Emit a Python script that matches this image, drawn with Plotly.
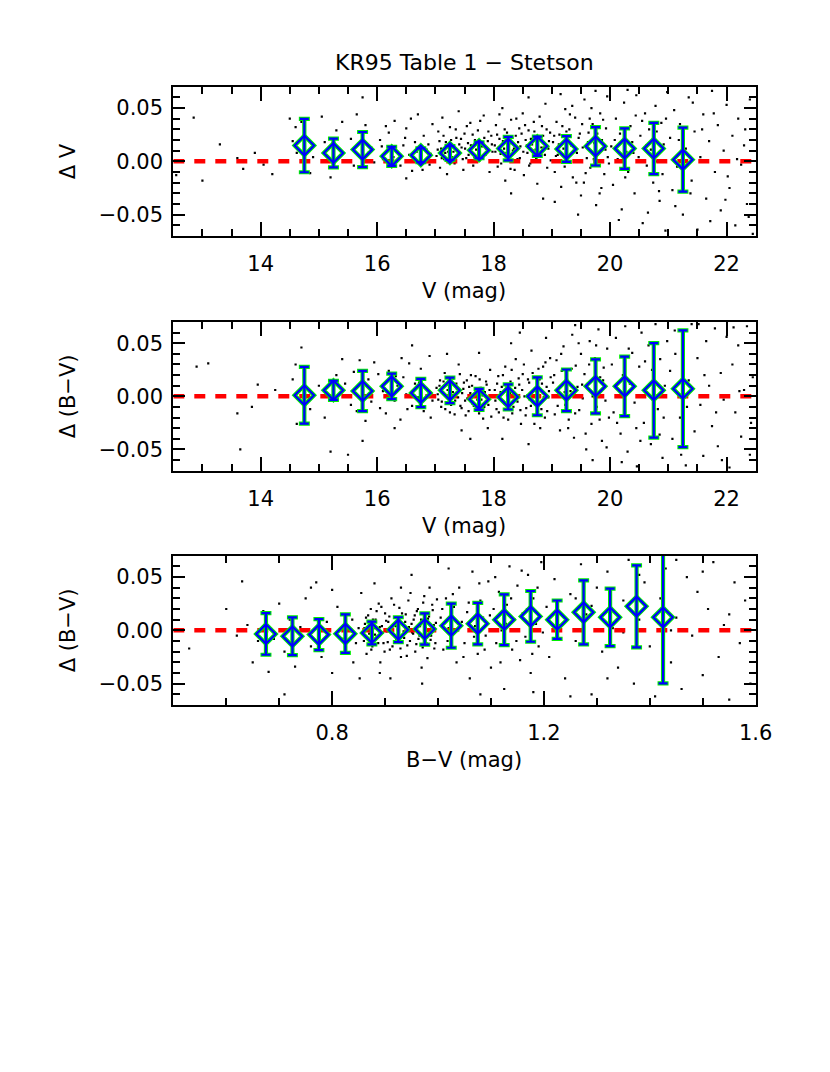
import plotly.graph_objects as go

W, H = 830, 1072
FONT = "DejaVu Sans"
BLUE = "#0000ff"
GREEN = "#00ee00"
RED = "#ff0000"

TITLE = "KR95 Table 1 \u2212 Stetson"

# panel ranges / ticks
V_RANGE = [12.5, 22.5]
BV_RANGE = [0.5, 1.6]
D_RANGE = [-0.07, 0.07]
ZERO_LEVEL = 0.0

# binned means (panel 1: Delta V vs V)
v_bins = [14.75, 15.25, 15.75, 16.25, 16.75, 17.25, 17.75,
          18.25, 18.75, 19.25, 19.75, 20.25, 20.75, 21.25]
dv_mean = [0.0148, 0.0078, 0.0110, 0.0047, 0.0057, 0.0078, 0.0104,
           0.0120, 0.0141, 0.0116, 0.0141, 0.0120, 0.0120, 0.0016]
dv_err = [0.0250, 0.0135, 0.0165, 0.0090, 0.0065, 0.0065, 0.0075,
          0.0110, 0.0090, 0.0120, 0.0180, 0.0190, 0.0240, 0.0300]

# panel 2: Delta (B-V) vs V
dbv_mean = [0.0010, 0.0057, 0.0050, 0.0094, 0.0031, 0.0057, -0.0028,
            -0.0006, 0.0000, 0.0057, 0.0094, 0.0094, 0.0057, 0.0072]
dbv_err = [0.0267, 0.0090, 0.0190, 0.0120, 0.0133, 0.0120, 0.0099,
           0.0118, 0.0178, 0.0196, 0.0255, 0.0280, 0.0445, 0.0550]

# panel 3: Delta (B-V) vs B-V
bv_bins = [0.675, 0.725, 0.775, 0.825, 0.875, 0.925, 0.975, 1.025,
           1.075, 1.125, 1.175, 1.225, 1.275, 1.325, 1.375, 1.425]
dbv2_mean = [-0.0034, -0.0056, -0.0040, -0.0031, -0.0025, 0.0006, 0.0013, 0.0044,
             0.0063, 0.0100, 0.0131, 0.0100, 0.0169, 0.0122, 0.0225, 0.0122]
dbv2_err = [0.0195, 0.0177, 0.0145, 0.0180, 0.0106, 0.0117, 0.0147, 0.0207,
            0.0195, 0.0238, 0.0238, 0.0180, 0.0300, 0.0270, 0.0385, 0.0620]

# individual stars
stars_v_dv = [
    (12.55, -0.013), (12.85, 0.041), (13.0, -0.018), (13.3, 0.016), (13.6, 0.003), (13.7, -0.007),
    (13.9, 0.008), (14.05, -0.003), (14.2, -0.012), (14.5, 0.040),
    (14.55, 0.019), (14.6, 0.032), (14.62, 0.008), (14.7, 0.037), (14.85, -0.011), (14.9, 0.004),
    (15.05, 0.042), (15.1, 0.018), (15.2, -0.015), (15.3, 0.029), (15.4, 0.037), (15.45, 0.0),
    (15.55, 0.021), (15.6, -0.004), (15.65, 0.044), (15.75, 0.060), (15.8, 0.034), (15.9, 0.013),
    (15.95, -0.001), (15.85, 0.008),
    (16.05, 0.020), (16.1, 0.002), (16.2, 0.027), (16.3, 0.038), (16.35, 0.009), (16.4, -0.004),
    (16.45, 0.015), (16.5, 0.031), (16.55, 0.006), (16.6, -0.009), (16.65, 0.018), (16.7, 0.044),
    (16.75, 0.001), (16.8, 0.024), (16.85, 0.011), (16.9, -0.003), (16.95, 0.035), (16.92, 0.007),
    (16.5, -0.016), (16.2, 0.012),
    (16.08, 0.014), (16.28, 0.004), (16.48, 0.022), (16.68, 0.009), (16.88, 0.016), (16.15, 0.033),
    (16.58, 0.040), (16.78, -0.008),
    (17.02, 0.005), (17.05, 0.028), (17.08, -0.006), (17.1, 0.012), (17.12, 0.041), (17.15, 0.002),
    (17.18, 0.018), (17.2, -0.012), (17.22, 0.009), (17.25, 0.032), (17.28, 0.004), (17.3, 0.015),
    (17.33, -0.002), (17.36, 0.022), (17.4, 0.047), (17.42, 0.007), (17.45, 0.013), (17.48, -0.008),
    (17.5, 0.026), (17.53, 0.003), (17.56, 0.017), (17.6, 0.036), (17.62, 0.008), (17.65, -0.004),
    (17.68, 0.020), (17.7, 0.011), (17.73, 0.029), (17.76, 0.001), (17.8, 0.014), (17.83, 0.043),
    (17.86, 0.006), (17.9, 0.019), (17.93, -0.010), (17.96, 0.024), (17.98, 0.009),
    (17.04, 0.011), (17.07, 0.019), (17.11, 0.003), (17.14, 0.024), (17.17, 0.008), (17.21, 0.014),
    (17.24, -0.001), (17.27, 0.020), (17.31, 0.009), (17.35, 0.030), (17.38, 0.005), (17.41, 0.016),
    (17.44, 0.021), (17.47, 0.002), (17.51, 0.012), (17.54, 0.033), (17.57, 0.006), (17.61, 0.015),
    (17.64, 0.025), (17.67, 0.004), (17.71, 0.018), (17.74, 0.008), (17.77, 0.038), (17.81, 0.003),
    (17.84, 0.022), (17.87, 0.012), (17.91, 0.028), (17.94, 0.001), (17.97, 0.016),
    (18.02, 0.015), (18.04, 0.034), (18.07, -0.005), (18.1, 0.021), (18.12, 0.007), (18.15, 0.050),
    (18.18, 0.012), (18.2, -0.018), (18.23, 0.027), (18.25, 0.004), (18.28, 0.017), (18.3, 0.039),
    (18.33, 0.010), (18.36, -0.008), (18.38, 0.024), (18.41, 0.002), (18.44, 0.031), (18.46, 0.014),
    (18.5, 0.045), (18.52, -0.013), (18.55, 0.020), (18.58, 0.008), (18.6, 0.029), (18.63, -0.002),
    (18.66, 0.016), (18.69, 0.037), (18.72, 0.011), (18.75, -0.021), (18.78, 0.023), (18.8, 0.005),
    (18.83, 0.033), (18.86, 0.013), (18.89, 0.054), (18.92, -0.006), (18.95, 0.019), (18.97, 0.027),
    (18.3, -0.030), (18.6, 0.060), (18.1, 0.044), (18.85, -0.035),
    (18.03, 0.009), (18.06, 0.025), (18.09, 0.013), (18.13, -0.002), (18.16, 0.019), (18.19, 0.030),
    (18.22, 0.008), (18.26, 0.015), (18.29, -0.007), (18.32, 0.022), (18.35, 0.012), (18.39, 0.040),
    (18.42, 0.018), (18.45, 0.003), (18.48, 0.026), (18.51, 0.009), (18.54, 0.034), (18.57, 0.015),
    (18.61, -0.004), (18.64, 0.021), (18.67, 0.010), (18.7, 0.028), (18.73, 0.002), (18.76, 0.017),
    (18.79, 0.042), (18.82, 0.013), (18.85, 0.024), (18.88, 0.006), (18.91, 0.030), (18.94, 0.012),
    (18.98, 0.001),
    (19.02, 0.018), (19.05, -0.010), (19.08, 0.037), (19.1, 0.006), (19.13, 0.025), (19.16, -0.024),
    (19.2, 0.012), (19.23, 0.049), (19.26, 0.000), (19.3, 0.030), (19.33, 0.015), (19.36, -0.015),
    (19.4, 0.041), (19.43, 0.008), (19.46, 0.022), (19.5, -0.032), (19.53, 0.013), (19.56, 0.058),
    (19.6, 0.003), (19.63, 0.027), (19.66, -0.006), (19.7, 0.035), (19.73, 0.017), (19.76, -0.041),
    (19.8, 0.009), (19.83, 0.045), (19.86, 0.020), (19.9, -0.012), (19.93, 0.031), (19.96, 0.004),
    (19.15, 0.063), (19.45, -0.050), (19.75, 0.066), (19.55, -0.020), (19.25, 0.028), (19.65, 0.040),
    (19.85, -0.025), (19.35, 0.052), (19.95, 0.061), (19.05, -0.038),
    (19.04, 0.024), (19.07, 0.005), (19.12, 0.016), (19.18, 0.033), (19.22, -0.005), (19.28, 0.020),
    (19.31, 0.044), (19.38, 0.010), (19.42, -0.020), (19.48, 0.026), (19.52, 0.035), (19.58, -0.011),
    (19.62, 0.018), (19.68, 0.050), (19.72, 0.002), (19.78, 0.026), (19.82, -0.030), (19.88, 0.039),
    (19.92, 0.011), (19.98, -0.002),
    (20.02, 0.014), (20.05, -0.022), (20.1, 0.040), (20.13, 0.002), (20.17, 0.026), (20.2, -0.045),
    (20.24, 0.055), (20.28, 0.009), (20.31, -0.010), (20.35, 0.033), (20.38, 0.018), (20.42, -0.030),
    (20.45, 0.062), (20.49, 0.004), (20.52, 0.024), (20.56, -0.058), (20.6, 0.045), (20.63, -0.004),
    (20.67, 0.030), (20.7, 0.011), (20.74, -0.020), (20.78, 0.052), (20.81, 0.000), (20.85, -0.037),
    (20.88, 0.036), (20.92, 0.016), (20.95, -0.065), (20.98, 0.065), (20.3, 0.067), (20.65, -0.048),
    (20.15, -0.055), (20.55, 0.038), (20.9, -0.012), (20.4, 0.008), (20.8, 0.028),
    (20.08, 0.020), (20.26, -0.015), (20.44, 0.043), (20.62, 0.015), (20.84, -0.028), (20.96, 0.040),
    (21.03, 0.022), (21.07, -0.027), (21.1, 0.048), (21.15, -0.005), (21.2, 0.035), (21.25, -0.050),
    (21.3, 0.012), (21.35, 0.060), (21.4, -0.018), (21.45, 0.028), (21.5, -0.064), (21.55, 0.004),
    (21.6, 0.044), (21.65, -0.035), (21.7, 0.019), (21.75, 0.066), (21.8, -0.010), (21.85, 0.034),
    (21.9, -0.046), (21.95, 0.010), (22.0, 0.053), (22.05, -0.025), (22.1, 0.024), (22.15, -0.060),
    (22.2, 0.040), (22.25, -0.003), (22.3, 0.015), (22.35, -0.040), (22.4, 0.058), (22.45, -0.068),
    (21.12, -0.042), (21.42, 0.055), (21.72, -0.056), (22.02, -0.014), (22.32, 0.030),
    (21.18, 0.020), (21.38, -0.030), (21.58, 0.030), (21.78, 0.045), (21.98, -0.036), (22.18, 0.002),
    (22.38, -0.052),
]

stars_v_dbv = [
    (12.9, 0.028), (13.1, 0.031), (13.6, -0.016), (13.65, -0.050), (13.85, -0.010), (13.95, 0.011),
    (14.25, 0.006), (14.55, 0.016), (14.6, 0.030), (14.62, -0.026),
    (14.7, 0.046), (14.85, -0.012), (15.0, 0.010), (15.1, -0.020), (15.15, 0.002), (15.2, -0.052),
    (15.3, 0.020), (15.4, 0.035), (15.5, -0.055), (15.55, -0.008), (15.6, 0.023), (15.7, 0.034),
    (15.75, -0.042), (15.8, -0.023), (15.85, 0.016), (15.9, -0.005), (15.95, 0.032), (15.45, 0.012),
    (15.65, -0.014), (15.25, 0.006),
    (16.02, 0.021), (16.05, -0.011), (16.1, 0.005), (16.15, -0.016), (16.2, 0.024), (16.25, 0.015),
    (16.3, -0.004), (16.35, 0.010), (16.4, -0.022), (16.45, 0.018), (16.5, 0.002), (16.55, 0.031),
    (16.6, -0.009), (16.65, 0.012), (16.7, -0.001), (16.75, 0.026), (16.8, -0.014), (16.85, 0.007),
    (16.9, 0.038), (16.95, -0.004), (16.6, 0.048), (16.3, -0.030),
    (16.12, 0.008), (16.32, 0.019), (16.52, -0.012), (16.72, 0.013), (16.92, -0.020), (16.42, 0.036),
    (17.02, 0.008), (17.05, -0.003), (17.08, 0.015), (17.1, -0.010), (17.13, 0.004), (17.16, 0.022),
    (17.19, -0.006), (17.22, 0.011), (17.25, -0.015), (17.28, 0.001), (17.31, 0.017), (17.34, -0.004),
    (17.37, 0.007), (17.4, 0.030), (17.43, -0.009), (17.46, 0.003), (17.49, 0.013), (17.52, -0.018),
    (17.55, -0.002), (17.58, 0.009), (17.61, 0.020), (17.64, -0.007), (17.67, 0.002), (17.7, -0.012),
    (17.73, 0.006), (17.76, 0.016), (17.79, -0.003), (17.82, -0.021), (17.85, 0.004), (17.88, 0.011),
    (17.91, -0.008), (17.94, 0.025), (17.97, 0.000), (17.45, -0.032), (17.75, 0.041), (17.2, 0.040),
    (17.6, -0.040), (17.9, -0.030),
    (17.04, 0.002), (17.07, 0.010), (17.11, -0.005), (17.14, 0.014), (17.17, -0.012), (17.21, 0.006),
    (17.24, 0.018), (17.27, -0.008), (17.3, 0.004), (17.33, -0.017), (17.36, 0.012), (17.39, -0.001),
    (17.42, 0.021), (17.45, -0.011), (17.48, 0.007), (17.51, -0.004), (17.54, 0.015), (17.57, -0.014),
    (17.6, 0.003), (17.63, 0.010), (17.66, -0.009), (17.69, 0.019), (17.72, -0.003), (17.75, -0.016),
    (17.78, 0.008), (17.81, 0.001), (17.84, -0.010), (17.87, 0.014), (17.9, -0.002), (17.93, 0.006),
    (17.96, -0.019),
    (18.02, 0.006), (18.05, -0.012), (18.08, 0.019), (18.11, -0.002), (18.14, 0.009), (18.17, -0.020),
    (18.2, 0.028), (18.23, 0.001), (18.26, -0.008), (18.29, 0.014), (18.32, -0.016), (18.35, 0.004),
    (18.38, 0.035), (18.41, -0.005), (18.44, 0.011), (18.47, -0.026), (18.5, 0.021), (18.53, 0.000),
    (18.56, -0.011), (18.59, 0.016), (18.62, -0.003), (18.65, 0.043), (18.68, -0.018), (18.71, 0.007),
    (18.74, -0.007), (18.77, 0.026), (18.8, -0.030), (18.83, 0.012), (18.86, -0.001), (18.89, 0.032),
    (18.92, -0.014), (18.95, 0.005), (18.98, 0.018), (18.3, 0.050), (18.6, -0.045), (18.9, 0.055),
    (18.15, -0.040), (18.45, 0.060),
    (18.03, -0.004), (18.06, 0.012), (18.09, -0.015), (18.12, 0.004), (18.16, 0.020), (18.19, -0.007),
    (18.22, 0.010), (18.25, -0.022), (18.28, 0.003), (18.31, 0.025), (18.34, -0.010), (18.37, 0.008),
    (18.4, -0.002), (18.43, 0.017), (18.46, -0.013), (18.49, 0.006), (18.52, 0.030), (18.55, -0.018),
    (18.58, 0.001), (18.61, 0.013), (18.64, -0.009), (18.67, 0.022), (18.7, -0.026), (18.73, 0.005),
    (18.76, -0.004), (18.79, 0.016), (18.82, -0.012), (18.85, 0.028), (18.88, -0.020), (18.91, 0.009),
    (18.94, -0.001), (18.97, 0.036),
    (19.02, 0.013), (19.05, -0.017), (19.08, 0.034), (19.11, 0.001), (19.14, -0.032), (19.17, 0.024),
    (19.2, 0.047), (19.23, -0.008), (19.26, 0.016), (19.29, -0.022), (19.32, 0.005), (19.35, 0.058),
    (19.38, -0.039), (19.41, 0.029), (19.44, 0.009), (19.47, -0.013), (19.5, 0.040), (19.53, -0.002),
    (19.56, 0.021), (19.59, -0.050), (19.62, 0.012), (19.65, 0.052), (19.68, -0.026), (19.71, 0.003),
    (19.74, 0.036), (19.77, -0.010), (19.8, 0.063), (19.83, 0.018), (19.86, -0.042), (19.89, 0.027),
    (19.92, -0.004), (19.95, 0.045), (19.98, -0.020), (19.4, 0.067), (19.7, -0.060),
    (19.04, 0.020), (19.1, -0.009), (19.16, 0.040), (19.22, 0.004), (19.28, -0.030), (19.34, 0.026),
    (19.4, -0.016), (19.46, 0.050), (19.52, 0.011), (19.58, -0.035), (19.64, 0.030), (19.7, 0.000),
    (19.76, 0.048), (19.82, -0.022), (19.88, 0.015), (19.94, -0.048),
    (20.03, 0.030), (20.06, -0.015), (20.1, 0.055), (20.14, 0.006), (20.18, -0.035), (20.22, 0.020),
    (20.26, 0.066), (20.3, -0.052), (20.34, 0.012), (20.38, 0.041), (20.42, -0.006), (20.46, -0.066),
    (20.5, 0.028), (20.54, 0.060), (20.58, -0.025), (20.62, 0.004), (20.66, 0.048), (20.7, -0.045),
    (20.74, 0.018), (20.78, 0.068), (20.82, -0.012), (20.86, 0.035), (20.9, -0.058), (20.94, 0.010),
    (20.98, 0.052), (20.2, -0.062), (20.6, 0.033), (20.45, -0.030), (20.85, -0.036),
    (20.12, -0.025), (20.32, 0.045), (20.52, -0.042), (20.72, 0.025), (20.92, -0.020),
    (21.03, 0.024), (21.07, -0.040), (21.11, 0.062), (21.15, 0.003), (21.2, -0.020), (21.25, 0.045),
    (21.3, -0.065), (21.35, 0.015), (21.4, 0.068), (21.45, -0.033), (21.5, 0.036), (21.55, -0.008),
    (21.6, -0.056), (21.65, 0.052), (21.7, 0.010), (21.75, -0.028), (21.8, 0.064), (21.85, -0.047),
    (21.9, 0.022), (21.95, -0.003), (22.0, 0.056), (22.05, -0.067), (22.1, 0.030), (22.15, -0.015),
    (22.2, 0.048), (22.25, -0.038), (22.3, 0.006), (22.35, 0.066), (22.4, -0.055), (22.45, 0.018),
    (21.22, -0.055), (21.52, 0.068), (21.82, -0.015), (22.12, 0.065), (22.42, -0.025),
    (21.12, 0.040), (21.32, -0.010), (21.62, 0.020), (21.92, -0.060), (22.22, 0.005),
]

stars_bv_dbv = [
    (0.53, -0.017), (0.60, 0.020), (0.62, -0.005), (0.64, 0.005), (0.65, -0.030), (0.66, -0.010),
    (0.67, 0.018), (0.68, -0.039), (0.69, -0.008), (0.70, 0.025), (0.71, -0.020), (0.72, 0.010),
    (0.73, -0.034), (0.74, 0.003), (0.75, 0.030), (0.76, -0.015), (0.77, 0.045), (0.78, -0.025),
    (0.79, 0.008), (0.80, -0.040), (0.81, 0.022), (0.82, -0.008), (0.83, 0.015), (0.84, -0.030),
    (0.85, 0.002), (0.855, 0.035), (0.63, 0.046), (0.71, -0.060), (0.76, 0.040), (0.80, 0.038),
    (0.845, -0.012), (0.838, 0.010), (0.852, -0.045),
    (0.86, -0.010), (0.862, 0.006), (0.865, -0.022), (0.868, 0.014), (0.87, -0.003), (0.873, 0.020),
    (0.876, -0.015), (0.879, 0.002), (0.882, 0.010), (0.885, -0.006), (0.888, 0.025), (0.891, -0.030),
    (0.894, 0.004), (0.897, -0.012), (0.90, 0.016), (0.903, -0.001), (0.906, 0.008), (0.909, -0.018),
    (0.912, 0.030), (0.915, -0.004), (0.918, 0.012), (0.921, -0.009), (0.924, 0.001), (0.927, 0.021),
    (0.93, -0.025), (0.933, 0.006), (0.936, -0.007), (0.939, 0.015), (0.942, -0.014), (0.945, 0.003),
    (0.948, 0.035), (0.951, -0.002), (0.954, 0.010), (0.957, -0.020), (0.96, 0.018), (0.963, -0.008),
    (0.966, 0.004), (0.969, -0.035), (0.972, 0.026), (0.975, 0.000), (0.978, -0.012), (0.981, 0.011),
    (0.984, 0.040), (0.987, -0.005), (0.99, 0.019), (0.993, -0.017), (0.996, 0.007), (0.88, 0.044),
    (0.91, -0.045), (0.95, 0.052), (0.97, -0.050), (0.89, -0.040), (0.93, 0.040),
    (0.861, 0.002), (0.864, 0.012), (0.867, -0.008), (0.871, 0.007), (0.874, -0.018), (0.877, 0.010),
    (0.881, -0.004), (0.884, 0.018), (0.887, -0.012), (0.89, 0.003), (0.893, 0.022), (0.896, -0.002),
    (0.899, -0.020), (0.902, 0.009), (0.905, -0.011), (0.908, 0.013), (0.911, 0.001), (0.914, -0.015),
    (0.917, 0.024), (0.92, 0.004), (0.923, -0.006), (0.926, 0.011), (0.929, -0.017), (0.932, 0.016),
    (0.935, -0.001), (0.938, 0.008), (0.941, -0.024), (0.944, 0.028), (0.947, -0.010), (0.95, 0.006),
    (0.953, -0.003), (0.956, 0.014), (0.959, -0.013), (0.962, 0.020), (0.965, -0.005), (0.968, 0.010),
    (0.971, -0.016), (0.974, 0.032), (0.977, 0.002), (0.98, -0.026), (0.983, 0.013), (0.986, -0.009),
    (0.989, 0.024), (0.992, 0.005), (0.995, -0.012), (0.998, 0.029),
    (1.005, 0.012), (1.01, -0.018), (1.015, 0.030), (1.02, 0.002), (1.025, -0.008), (1.03, 0.022),
    (1.035, -0.030), (1.04, 0.040), (1.045, 0.008), (1.05, -0.012), (1.055, 0.017), (1.06, -0.045),
    (1.065, 0.055), (1.07, 0.004), (1.075, -0.022), (1.08, 0.028), (1.085, 0.012), (1.09, -0.005),
    (1.095, 0.046), (1.10, -0.035), (1.105, 0.020), (1.11, -0.012), (1.115, 0.036), (1.12, 0.000),
    (1.125, -0.055), (1.13, 0.024), (1.135, 0.060), (1.14, -0.018), (1.145, 0.010), (1.15, 0.042),
    (1.155, -0.028), (1.16, 0.016), (1.165, -0.006), (1.17, 0.052), (1.175, -0.040), (1.18, 0.030),
    (1.185, 0.006), (1.19, -0.015), (1.195, 0.064), (1.02, 0.058), (1.08, -0.060), (1.18, -0.058),
    (1.008, 0.020), (1.018, -0.010), (1.028, 0.034), (1.038, 0.000), (1.048, -0.025), (1.058, 0.026),
    (1.068, -0.006), (1.078, 0.044), (1.088, -0.018), (1.098, 0.014), (1.108, 0.050), (1.118, -0.030),
    (1.128, 0.006), (1.138, 0.030), (1.148, -0.010), (1.158, 0.056), (1.168, 0.020), (1.178, -0.022),
    (1.188, 0.040), (1.198, -0.002),
    (1.205, 0.022), (1.21, -0.025), (1.22, 0.048), (1.23, 0.005), (1.24, -0.045), (1.25, 0.034),
    (1.26, -0.010), (1.27, 0.062), (1.28, 0.015), (1.29, -0.060), (1.30, 0.040), (1.31, -0.020),
    (1.32, 0.055), (1.33, 0.002), (1.34, -0.035), (1.35, 0.028), (1.36, 0.066), (1.37, -0.050),
    (1.38, 0.010), (1.39, 0.045), (1.40, -0.015), (1.41, -0.062), (1.42, 0.030), (1.43, 0.058),
    (1.44, -0.030), (1.45, 0.012), (1.46, -0.055), (1.47, 0.050), (1.48, -0.005), (1.49, 0.036),
    (1.50, -0.042), (1.51, 0.020), (1.52, 0.064), (1.53, -0.025), (1.54, 0.005), (1.55, -0.065),
    (1.56, 0.045), (1.57, -0.012), (1.58, 0.028), (1.59, -0.050), (1.25, -0.062), (1.35, -0.002),
    (1.45, 0.066), (1.55, 0.015), (1.29, 0.023),
    (1.26, 0.030), (1.32, -0.045), (1.38, 0.052), (1.44, 0.000), (1.50, 0.055),
]


def px_x(p):
    return p / W


def px_y(p):
    return 1 - p / H


# plot boxes in pixels: left, right, top, bottom
BOX_L, BOX_R = 173.3, 755.7
panels = [
    dict(top=86.7, bottom=236.0, xtitle="V (mag)", ytitle="\u0394 V", xr=V_RANGE,
         dt=2, t0=14, mdt=0.5, stars=stars_v_dv, bx=v_bins, by=dv_mean, be=dv_err),
    dict(top=322.0, bottom=470.7, xtitle="V (mag)", ytitle="\u0394 (B\u2212V)", xr=V_RANGE,
         dt=2, t0=14, mdt=0.5, stars=stars_v_dbv, bx=v_bins, by=dbv_mean, be=dbv_err),
    dict(top=555.7, bottom=705.0, xtitle="B\u2212V (mag)", ytitle="\u0394 (B\u2212V)", xr=BV_RANGE,
         dt=0.4, t0=0.8, mdt=0.1, stars=stars_bv_dbv, bx=bv_bins, by=dbv2_mean, be=dbv2_err),
]

fig = go.Figure()
annotations = [dict(text=TITLE, x=px_x(464), y=px_y(62), xref="paper", yref="paper",
                    showarrow=False, font=dict(family=FONT, size=22, color="black"),
                    xanchor="center", yanchor="middle")]
layout_axes = {}

for i, p in enumerate(panels):
    n = "" if i == 0 else str(i + 1)
    xa, ya = "x" + n, "y" + n
    sx, sy = zip(*p["stars"])
    fig.add_trace(go.Scatter(x=sx, y=sy, xaxis=xa, yaxis=ya, mode="markers",
                             marker=dict(size=2.2, color="black", symbol="square"),
                             showlegend=False, hoverinfo="skip"))
    fig.add_trace(go.Scatter(x=p["xr"], y=[ZERO_LEVEL, ZERO_LEVEL], xaxis=xa, yaxis=ya,
                             mode="lines", line=dict(color=RED, width=4.5, dash="11px,10px"),
                             showlegend=False, hoverinfo="skip"))
    # green halo underneath, blue on top
    for col, lw, th, cw in [(GREEN, 4.2, 4.2, 5.5), (BLUE, 2.2, 2.2, 4.5)]:
        fig.add_trace(go.Scatter(x=p["bx"], y=p["by"], xaxis=xa, yaxis=ya, mode="markers",
                                 marker=dict(symbol="diamond-open", size=15, color=col,
                                             line=dict(color=col, width=lw)),
                                 error_y=dict(type="data", array=p["be"], visible=True,
                                              color=col, thickness=th, width=cw),
                                 showlegend=False))
    ax_common = dict(showline=True, linewidth=2, linecolor="black", mirror="ticks",
                     ticks="inside", tickcolor="black", tickwidth=1.5, showgrid=False,
                     zeroline=False, automargin=False,
                     tickfont=dict(family=FONT, size=21, color="black"))
    layout_axes["xaxis" + n] = dict(ax_common, domain=[px_x(BOX_L), px_x(BOX_R)],
                                    anchor=ya, range=p["xr"], tick0=p["t0"], dtick=p["dt"],
                                    ticklen=14, ticklabelstandoff=8,
                                    minor=dict(dtick=p["mdt"], tick0=p["t0"], ticks="inside",
                                               ticklen=7, tickcolor="black", tickwidth=1.5))
    layout_axes["yaxis" + n] = dict(ax_common, domain=[px_y(p["bottom"]), px_y(p["top"])],
                                    anchor=xa, range=D_RANGE, tick0=0, dtick=0.05,
                                    tickformat=".2f", ticklen=12, ticklabelstandoff=4,
                                    minor=dict(dtick=0.01, tick0=0, ticks="inside",
                                               ticklen=7, tickcolor="black", tickwidth=1.5))
    annotations.append(dict(text=p["xtitle"], x=px_x(464), y=px_y(p["bottom"] + 55),
                            xref="paper", yref="paper", showarrow=False,
                            font=dict(family=FONT, size=21, color="black"),
                            xanchor="center", yanchor="middle"))
    annotations.append(dict(text=p["ytitle"], x=px_x(68), y=px_y((p["top"] + p["bottom"]) / 2),
                            xref="paper", yref="paper", showarrow=False, textangle=-90,
                            font=dict(family=FONT, size=21, color="black"),
                            xanchor="center", yanchor="middle"))

fig.update_layout(width=W, height=H, autosize=False, margin=dict(l=0, r=0, t=0, b=0),
                  paper_bgcolor="white", plot_bgcolor="white", showlegend=False,
                  annotations=annotations, **layout_axes)
fig.update_yaxes(tickvals=[-0.05, 0.0, 0.05], ticktext=["\u22120.05", "0.00", "0.05"])

fig.write_html("out.html", config={"displayModeBar": False},
               post_script="document.body.style.margin='0';")
